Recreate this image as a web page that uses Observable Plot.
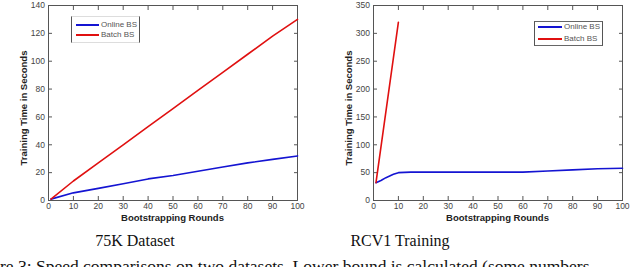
<!DOCTYPE html>
<html>
<head>
<meta charset="utf-8">
<script src="https://cdn.jsdelivr.net/npm/d3@7"></script>
<script src="https://cdn.jsdelivr.net/npm/@observablehq/plot@0.6"></script>
<style>
  html, body { margin: 0; padding: 0; background: #fff; }
  #fig { position: relative; width: 640px; height: 267px; overflow: hidden; background: #fff; }
  .panel { position: absolute; top: 0; }
  .legend { position: absolute; box-sizing: border-box; font-family: "Liberation Sans", Arial, sans-serif; font-size: 8px; color: #555; }
  .legend .sw { position: absolute; height: 0; }
  .legend .lb { position: absolute; line-height: 10px; white-space: nowrap; }
  .sub { position: absolute; font-family: "Liberation Serif", "Times New Roman", serif; font-size: 16px; color: #111; white-space: nowrap; transform: translateX(-50%); }
  #cap { position: absolute; top: 256px; font-family: "Liberation Serif", "Times New Roman", serif; font-size: 17.5px; color: #111; white-space: nowrap; }
</style>
</head>
<body>
<div id="fig"></div>
<script>
// ---- data ----
const xTicks = [0, 10, 20, 30, 40, 50, 60, 70, 80, 90, 100];
const leftYTicks = [0, 20, 40, 60, 80, 100, 120, 140];
const rightYTicks = [0, 50, 100, 150, 200, 250, 300, 350];

const leftRounds = [1, 10, 20, 30, 40, 50, 60, 70, 80, 90, 100];
const leftOnline = [1, 5.5, 8.7, 12, 15.5, 18, 21, 24, 27, 29.5, 32];
const leftBatch  = [1, 14, 27, 40, 53, 66, 79, 92, 105, 118, 130];

const rightOnlineRounds = [1, 3, 5, 8, 10, 15, 20, 30, 40, 50, 60, 70, 80, 90, 100];
const rightOnline = [32, 36, 41, 47, 50, 51, 51, 51, 51, 51, 51, 53, 55, 57, 58];
const rightBatchRounds = [1, 10];
const rightBatch = [32, 320];

const seriesNames = ["Online BS", "Batch BS"];
const seriesColors = ["#1414d2", "#e01010"];
const subtitles = ["75K Dataset", "RCV1 Training"];
const xLabel = "Bootstrapping Rounds";
const yLabel = "Training Time in Seconds";
const captionText = "Figure 3: Speed comparisons on two datasets. Lower bound is calculated (some numbers";

const fig = document.getElementById("fig");

function panel(opts) {
  const {left, mLeft, mRight, yMax, yTicks, online, batch} = opts;
  const font = "Liberation Sans, Arial, sans-serif";
  const T = 4;
  const blank = () => "";
  const p = Plot.plot({
    width: 320, height: 225,
    marginLeft: mLeft, marginRight: mRight, marginTop: 5, marginBottom: 25,
    style: {fontFamily: font, fontSize: "8.5px", color: "#444", background: "transparent"},
    x: {domain: [0, 100]},
    y: {domain: [0, yMax]},
    marks: [
      Plot.frame({stroke: "#555", strokeWidth: 1}),
      // labels
      Plot.axisX({anchor: "bottom", ticks: xTicks, tickSize: 0, tickPadding: 2.5, label: null}),
      Plot.axisY({anchor: "left", ticks: yTicks, tickSize: 0, tickPadding: 3.5, label: null}),
      // inward tick marks on all four sides
      Plot.axisX({anchor: "bottom", ticks: xTicks, tickSize: T, dy: -T, tickFormat: blank, stroke: "#555", label: null}),
      Plot.axisX({anchor: "top", ticks: xTicks, tickSize: T, dy: T, tickFormat: blank, stroke: "#555", label: null}),
      Plot.axisY({anchor: "left", ticks: yTicks, tickSize: T, dx: T, tickFormat: blank, stroke: "#555", label: null}),
      Plot.axisY({anchor: "right", ticks: yTicks, tickSize: T, dx: -T, tickFormat: blank, stroke: "#555", label: null}),
      Plot.line(online.x.map((d, i) => ({x: d, y: online.y[i]})), {x: "x", y: "y", stroke: seriesColors[0], strokeWidth: 1.6}),
      Plot.line(batch.x.map((d, i) => ({x: d, y: batch.y[i]})), {x: "x", y: "y", stroke: seriesColors[1], strokeWidth: 1.6})
    ]
  });
  const wrap = document.createElement("div");
  wrap.className = "panel";
  wrap.style.left = left + "px";
  wrap.appendChild(p);
  fig.appendChild(wrap);

  const svg = d3.select(p);
  const fx0 = mLeft, fx1 = 320 - mRight;
  svg.append("text")
    .attr("x", (fx0 + fx1) / 2).attr("y", 218)
    .attr("text-anchor", "middle").attr("dominant-baseline", "middle")
    .attr("font-family", font).attr("font-size", "9.5px").attr("font-weight", "bold").attr("fill", "#222")
    .text(xLabel);
  svg.append("text")
    .attr("transform", `translate(${opts.yLabelX},${108}) rotate(-90)`)
    .attr("text-anchor", "middle").attr("dominant-baseline", "middle")
    .attr("font-family", font).attr("font-size", "9.5px").attr("font-weight", "bold").attr("fill", "#222")
    .text(yLabel);
}

panel({left: 0, mLeft: 48, mRight: 23, yMax: 140, yTicks: leftYTicks, yLabelX: 24,
  online: {x: leftRounds, y: leftOnline}, batch: {x: leftRounds, y: leftBatch}});
panel({left: 320, mLeft: 53, mRight: 18, yMax: 350, yTicks: rightYTicks, yLabelX: 29,
  online: {x: rightOnlineRounds, y: rightOnline}, batch: {x: rightBatchRounds, y: rightBatch}});

function legend(box) {
  const lg = document.createElement("div");
  lg.className = "legend";
  Object.assign(lg.style, {left: box.x + "px", top: box.y + "px", width: box.w + "px", height: box.h + "px",
    borderLeft: "1px solid #555", borderRight: "1px solid #555",
    borderTop: "1px solid " + box.hcol, borderBottom: "1px solid " + box.hcol});
  seriesNames.forEach((name, i) => {
    const sw = document.createElement("div");
    sw.className = "sw";
    Object.assign(sw.style, {left: box.swL + "px", width: box.swW + "px", top: box.rows[i] + "px",
      borderTop: "2px solid " + seriesColors[i]});
    lg.appendChild(sw);
    const lb = document.createElement("div");
    lb.className = "lb";
    Object.assign(lb.style, {left: (box.swL + box.swW + 2) + "px", top: (box.rows[i] - 4) + "px"});
    lb.textContent = name;
    lg.appendChild(lb);
  });
  fig.appendChild(lg);
}
legend({x: 71, y: 16, w: 69, h: 27, hcol: "#ddd", swL: 4, swW: 23, rows: [7, 17]});
legend({x: 534, y: 21, w: 69, h: 25, hcol: "#666", swL: 3, swW: 24, rows: [4, 16]});

subtitles.forEach((t, i) => {
  const d = document.createElement("div");
  d.className = "sub";
  d.style.left = (i === 0 ? 135 : 400) + "px";
  d.style.top = "232px";
  d.textContent = t;
  fig.appendChild(d);
});

const cap = document.createElement("div");
cap.id = "cap";
cap.textContent = captionText;
fig.appendChild(cap);
const ctx = document.createElement("canvas").getContext("2d");
ctx.font = "17.5px 'Liberation Serif'";
cap.style.left = (-ctx.measureText("Figu").width) + "px";
</script>
</body>
</html>
